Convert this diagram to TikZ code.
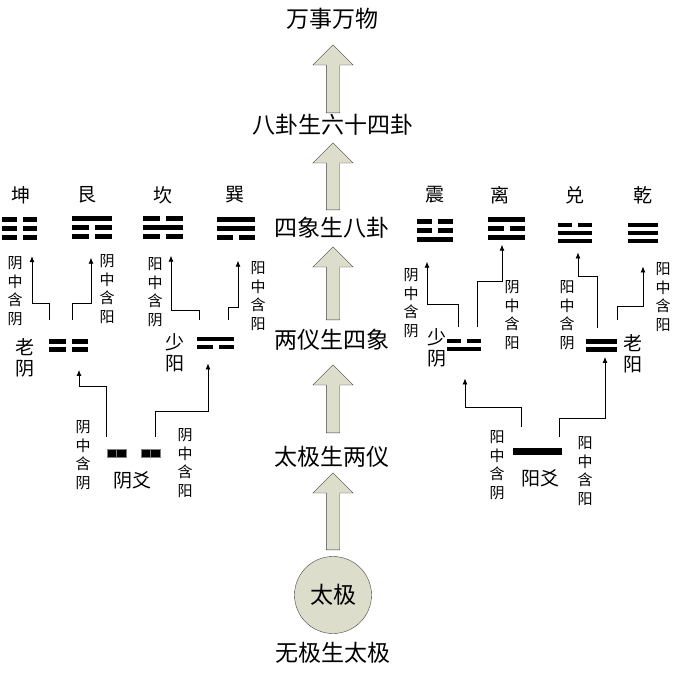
\documentclass[tikz,border=0pt]{standalone}
\usepackage{fontspec}
\usepackage{tikz}
\usetikzlibrary{shapes.arrows, arrows.meta, calc}
\newfontfamily\cjk{Noto Sans CJK SC}
\definecolor{taijic}{HTML}{DDDDCB}
\newcommand\guabars[4]{%
  \foreach \b [count=\i] in {#2}{%
    \pgfmathsetmacro\yy{(\i-1)*#3}%
    \ifnum\b=1
      \fill ($(#1.north west)+(0,\yy)$) rectangle ($(#1.north east)+(0,\yy+#4)$);
    \else
      \fill ($(#1.north west)+(0,\yy)$) rectangle ($(#1.north)+(-3,\yy+#4)$);
      \fill ($(#1.north)+(3,\yy)$) rectangle ($(#1.north east)+(0,\yy+#4)$);
    \fi}}

\begin{document}
\begin{tikzpicture}[x=1pt, y=-1pt,
  title/.style={font=\cjk\fontsize{23}{27}\selectfont},
  gname/.style={font=\cjk\fontsize{19}{21}\selectfont, align=center, inner sep=0pt},
  note/.style={font=\cjk\fontsize{15}{18.5}\selectfont, align=center, inner sep=0pt},
  gua/.style={minimum width=#1, minimum height=23pt, inner sep=0pt},
  xiang/.style={minimum width=#1, minimum height=12.5pt, inner sep=0pt},
  fat/.style={single arrow, draw=black!75, fill=taijic, rotate=90, anchor=tail,
              minimum height=#1, inner xsep=0pt, inner ysep=6.5pt,
              single arrow head extend=13.5pt},
  arr/.style={-{Latex[length=6pt, width=5pt]}, line width=0.8pt}
]
\useasboundingbox (0,0) rectangle (673,675);

\node[title] (wanwu)      at (332,19)  {万事万物};
\node[title] (bagua64)    at (333,125) {八卦生六十四卦};
\node[title] (sixiang)    at (332,228) {四象生八卦};
\node[title] (liangyi)    at (332,340) {两仪生四象};
\node[title] (taijisheng) at (332,457) {太极生两仪};
\node[title, circle, draw=black!75, fill=taijic, minimum size=77pt, inner sep=0pt] (taiji) at (333,595) {太极};
\node[title] (wuji)       at (333,653) {无极生太极};

\node[fat=68pt] (up1) at (333,113) {};
\node[fat=67pt] (up2) at (333,210) {};
\node[fat=73pt] (up3) at (333,320) {};
\node[fat=68pt] (up4) at (333,433) {};
\node[fat=77pt] (up5) at (333,550) {};

\node[gua=35pt] (kun)  at (19.5,228.5) {};
\node[gua=40pt] (gen)  at (92,228)  {};
\node[gua=40pt] (kan)  at (163,228) {};
\node[gua=38pt] (xun)  at (236,229) {};
\node[gua=36pt] (zhen) at (435,231) {};
\node[gua=37pt] (li)   at (506.5,229) {};
\node[gua=34pt, minimum height=20.5pt] (dui)  at (575,233) {};
\node[gua=30pt, minimum height=20.5pt] (qian) at (643,233) {};

\node[xiang=39pt] (laoyin)   at (68.5,345.5)  {};
\node[xiang=37pt] (shaoyang) at (215.5,343)   {};
\node[xiang=34pt] (shaoyin)  at (464,345)     {};
\node[xiang=31pt] (laoyang)  at (601.5,345.5) {};

\node[minimum width=53pt, minimum height=8pt, inner sep=0pt] (yinyao) at (133.5,453) {};
\node[fill=black, minimum width=49pt, minimum height=7pt, inner sep=0pt] (yangyao) at (537.5,451.5) {};

\node[gname] (t-kun)  at (21,195)  {坤};
\node[gname] (t-gen)  at (87,195)  {艮};
\node[gname] (t-kan)  at (163,195) {坎};
\node[gname] (t-xun)  at (235,195) {巽};
\node[gname] (t-zhen) at (435,195) {震};
\node[gname] (t-li)   at (500,195) {离};
\node[gname] (t-dui)  at (575,195) {兑};
\node[gname] (t-qian) at (643,195) {乾};

\node[gname] (t-laoyin)   at (25,357.5)  {老\\阴};
\node[gname] (t-shaoyang) at (175,352.5) {少\\阳};
\node[gname] (t-shaoyin)  at (437,347.5) {少\\阴};
\node[gname] (t-laoyang)  at (633,354)   {老\\阳};
\node[gname] (t-yinyao)   at (132,480)   {阴爻};
\node[gname] (t-yangyao)  at (540,478)   {阳爻};

\node[note] (n-kun)  at (15,291)  {阴\\中\\含\\阴};
\node[note] (n-gen)  at (107,289) {阴\\中\\含\\阳};
\node[note] (n-kan)  at (155,292) {阳\\中\\含\\阴};
\node[note] (n-xun)  at (258,296) {阳\\中\\含\\阳};
\node[note] (n-zhen) at (411,303) {阴\\中\\含\\阴};
\node[note] (n-li)   at (512,315) {阴\\中\\含\\阳};
\node[note] (n-dui)  at (567,315) {阳\\中\\含\\阴};
\node[note] (n-qian) at (663,297) {阳\\中\\含\\阳};
\node[note] (n-laoyin)   at (83,455)  {阴\\中\\含\\阴};
\node[note] (n-shaoyang) at (185,463) {阴\\中\\含\\阳};
\node[note] (n-shaoyin)  at (497,465) {阳\\中\\含\\阴};
\node[note] (n-laoyang)  at (585,471) {阳\\中\\含\\阳};

\guabars{kun}{0,0,0}{9}{5}
\guabars{gen}{1,0,0}{9}{5}
\guabars{kan}{0,1,0}{9}{5}
\guabars{xun}{1,1,0}{9}{5}
\guabars{zhen}{0,0,1}{9}{5}
\guabars{li}{1,0,1}{9}{5}
\guabars{dui}{0,1,1}{8}{4.5}
\guabars{qian}{1,1,1}{8}{4.5}
\guabars{laoyin}{0,0}{8}{4.5}
\guabars{shaoyang}{1,0}{8}{4.5}
\guabars{shaoyin}{0,1}{8}{4.5}
\guabars{laoyang}{1,1}{8}{4.5}
\foreach \dx in {0,9.5,34,43.5}
  \filldraw[fill=black, draw=gray] ($(yinyao.north west)+(\dx,0)$) rectangle ++(9.5,8);

\draw[arr] ([yshift=12pt]yinyao.north west) -- ++(0,-50) -| ([xshift=10.5pt,yshift=-18pt]laoyin.south);
\draw[arr] ([xshift=-5pt,yshift=12pt]yinyao.north east) -- ++(0,-25) -| ([xshift=-7.5pt,yshift=-14pt]shaoyang.south);
\draw[arr] ([xshift=9pt,yshift=21pt]yangyao.north west) -- ++(0,-19) -| ([xshift=1pt,yshift=-27pt]shaoyin.south);
\draw[arr] ([xshift=-3pt,yshift=11pt]yangyao.north east) -- ++(0,-18) -| ([xshift=3.5pt,yshift=-5pt]laoyang.south);
\draw[arr] ([xshift=1pt,yshift=19pt]laoyin.north west) -- ++(0,-17) -| ([xshift=12.5pt,yshift=-16pt]kun.south);
\draw[arr] ([xshift=3.5pt,yshift=19pt]laoyin.north) -- ++(0,-17) -| ([xshift=-1pt,yshift=-18pt]gen.south);
\draw[arr] ([xshift=3pt,yshift=17pt]shaoyang.north west) -- ++(0,-9) -| ([xshift=8pt,yshift=-16pt]kan.south);
\draw[arr] ([xshift=-6pt,yshift=17pt]shaoyang.north east) -- ++(0,-12) -| ([xshift=2pt,yshift=-20pt]xun.south);
\draw[arr] ([xshift=-6pt,yshift=12pt]shaoyin.north) -- ++(0,-22) -| ([xshift=-8pt,yshift=-19pt]zhen.south);
\draw[arr] ([xshift=13pt,yshift=12pt]shaoyin.north) -- ++(0,-45) -| ([xshift=-4.5pt,yshift=-4pt]li.south);
\draw[arr] ([xshift=-4.5pt,yshift=11pt]laoyang.north) -- ++(0,-52) -| ([xshift=3pt,yshift=-9pt]dui.south);
\draw[arr] ([yshift=19pt]laoyang.north east) -- ++(0,-14) -| ([yshift=-23pt]qian.south);
\end{tikzpicture}
\end{document}
